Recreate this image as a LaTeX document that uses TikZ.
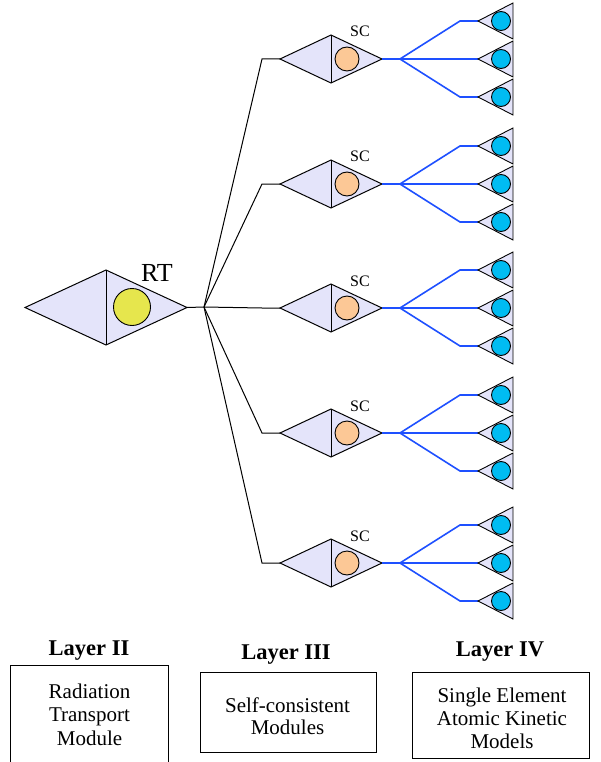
\documentclass[tikz,border=0pt]{standalone}
\usepackage{fontspec}
\setmainfont{Liberation Serif}
\usetikzlibrary{shapes.geometric}

\definecolor{modfill}{RGB}{228,228,250}
\definecolor{rtcore}{RGB}{230,230,77}
\definecolor{sccore}{RGB}{252,200,150}
\definecolor{akcore}{RGB}{0,188,242}
\definecolor{aklink}{RGB}{30,80,255}

\tikzset{
  module/.style={diamond, draw, fill=modfill, line width=1pt, inner sep=0pt, outer sep=0pt},
  core/.style={circle, draw, line width=0.9pt, inner sep=0pt, outer sep=0pt},
  rtlink/.style={draw=black, line width=1pt},
  bluelink/.style={draw=aklink, line width=1.6pt},
  layerbox/.style={draw, line width=1pt, inner sep=0pt},
  layertitle/.style={font=\fontsize{22.5}{24}\selectfont\bfseries, anchor=base},
  boxtext/.style={font=\fontsize{21}{23}\selectfont, anchor=base},
  sclabel/.style={font=\fontsize{16}{18}\selectfont, anchor=base}
}

\begin{document}
\begin{tikzpicture}[x=1pt, y=-1pt, line join=miter]
\useasboundingbox (0,0) rectangle (601,762);

% Layer II: radiation transport module
\node[module, minimum width=162pt, minimum height=75pt] (rt) at (106,307.5) {};
\draw[line width=1pt] (rt.north) -- (rt.south);
\node[core, fill=rtcore, minimum size=37pt] (rtc) at (132,307) {};
\node[font=\fontsize{26}{28}\selectfont, anchor=base] (rtlabel) at (157,281) {RT};
\coordinate (hub) at (204,307);
\draw[rtlink] (rt.east) -- (hub);

% Layers III and IV: self-consistent modules and their kinetic models
\foreach \i/\cy in {1/59, 2/184, 3/308, 4/433, 5/563} {
  \coordinate (bend-\i) at (262,\cy);
  \node[module, minimum width=102pt, minimum height=48pt] (sc-\i) at (331,\cy) {};
  \draw[line width=1pt] (sc-\i.north) -- (sc-\i.south);
  \node[core, fill=sccore, minimum size=24pt] (scc-\i) at (347,\cy) {};
  \node[sclabel] (sct-\i) at (360,\cy-22) {SC};
  \draw[rtlink] (hub) -- (bend-\i) -- (sc-\i.west);

  \coordinate (fan-\i) at (400,\cy);
  \draw[bluelink] (sc-\i.east) -- (fan-\i);
  \foreach \j/\dy in {a/-38, b/0, c/38} {
    \coordinate (tip-\i-\j) at (478,\cy+\dy);
    \coordinate (kb-\i-\j) at (460,\cy+\dy);
    \draw[bluelink] (fan-\i) -- (kb-\i-\j) -- (tip-\i-\j);
    \draw[fill=modfill, line width=0.9pt] (tip-\i-\j) -- (513,\cy+\dy-18) -- (513,\cy+\dy+18) -- cycle;
    \node[core, fill=akcore, minimum size=19pt] (akc-\i-\j) at (501,\cy+\dy) {};
  }
}

% Legend boxes
\node[layertitle] (t2) at (89,655) {Layer II};
\node[layerbox, minimum width=158pt, minimum height=99pt] (b2) at (89,714.5) {};
\node[boxtext] (b2a) at (89.5,698) {Radiation};
\node[boxtext] (b2b) at (89.5,721) {Transport};
\node[boxtext] (b2c) at (89.5,745) {Module};

\node[layertitle] (t3) at (286,659) {Layer III};
\node[layerbox, minimum width=176pt, minimum height=80pt] (b3) at (288,712) {};
\node[boxtext] (b3a) at (287.5,712) {Self-consistent};
\node[boxtext] (b3b) at (287.5,734) {Modules};

\node[layertitle] (t4) at (500,656) {Layer IV};
\node[layerbox, minimum width=177pt, minimum height=86pt] (b4) at (500.5,715) {};
\node[boxtext] (b4a) at (502,702) {Single Element};
\node[boxtext] (b4b) at (502,725) {Atomic Kinetic};
\node[boxtext] (b4c) at (502,748) {Models};
\end{tikzpicture}
\end{document}
